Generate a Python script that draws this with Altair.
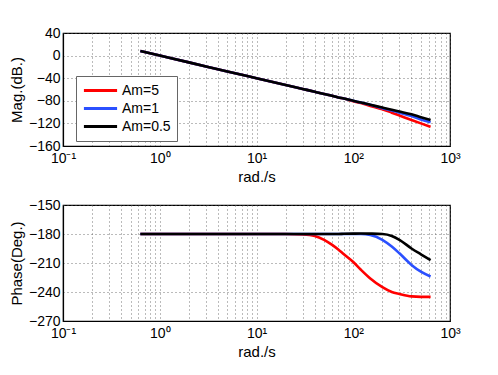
import altair as alt
import pandas as pd

freq = [0.63, 1, 2, 5, 10, 20, 30, 40, 50, 60, 70, 80, 100, 120, 150, 200, 250, 300, 400, 500, 630]

mag_am5 = [8, 0, -12, -28, -40, -52, -59, -64, -68, -71, -74, -76, -81, -84, -89, -95, -101, -106, -114, -120, -126]
mag_am1 = [8, 0, -12, -28, -40, -52, -59, -64, -68, -71, -74, -76, -80, -83, -87, -93, -97, -101, -107, -113, -118]
mag_am05 = [8, 0, -12, -28, -40, -52, -59, -64, -68, -71, -74, -76, -80, -83, -87, -92, -96, -99, -104, -109, -114]

ph_am5 = [-180, -180, -180, -180, -180, -180, -180.5, -182, -186, -191, -196, -201, -209, -217, -226, -235, -240, -242, -244.5, -245, -245]
ph_am1 = [-180, -180, -180, -180, -180, -180, -180, -180, -180, -180, -180, -180, -180, -180, -181, -186, -193, -200, -212, -219, -224]
ph_am05 = [-180, -180, -180, -180, -180, -180, -180, -180, -180, -180, -180, -179.8, -179.6, -179.5, -179.6, -180, -182, -186, -195, -201, -207]

series = ["Am=5", "Am=1", "Am=0.5"]
colors = ["#ff0000", "#2b50ff", "#000000"]

x_ticks = [0.1, 0.2, 0.3, 0.4, 0.5, 0.6, 0.7, 0.8, 0.9,
           1, 2, 3, 4, 5, 6, 7, 8, 9,
           10, 20, 30, 40, 50, 60, 70, 80, 90,
           100, 200, 300, 400, 500, 600, 700, 800, 900, 1000]
mag_ticks = [-160, -120, -80, -40, 0, 40]
ph_ticks = [-270, -240, -210, -180, -150]

rows = []
for name, m, p in zip(series, [mag_am5, mag_am1, mag_am05], [ph_am5, ph_am1, ph_am05]):
    for f, mv, pv in zip(freq, m, p):
        rows.append({"w": f, "mag": mv, "phase": pv, "series": name})
df = pd.DataFrame(rows)

FONT = "Liberation Sans"
label_expr = ("datum.value == 0.1 ? '10⁻¹' : datum.value == 1 ? '10⁰' : "
              "datum.value == 10 ? '10¹' : datum.value == 100 ? '10²' : "
              "datum.value == 1000 ? '10³' : ''")

grid_style = dict(grid=True, gridDash=[1, 3], gridColor="#555", gridOpacity=0.8,
                  ticks=False, domainColor="black", labelFont=FONT, labelFontSize=14,
                  labelColor="black", titleFont=FONT, titleFontSize=15,
                  titleFontWeight="normal", titleColor="black")

x_enc = alt.X("w:Q", scale=alt.Scale(type="log", domain=[0.1, 1000], nice=False),
              axis=alt.Axis(values=x_ticks, labelExpr=label_expr, title="rad./s",
                            labelPadding=5, titlePadding=4, labelFlush=False,
                            labelOverlap=False, **grid_style))

color_scale = alt.Scale(domain=series, range=colors)

top = alt.Chart(df).mark_line(strokeWidth=2.6, interpolate="monotone").encode(
    x=x_enc,
    y=alt.Y("mag:Q", scale=alt.Scale(domain=[-160, 40], nice=False),
            axis=alt.Axis(values=mag_ticks, title="Mag.(dB.)", labelPadding=3,
                          titlePadding=4, **grid_style)),
    color=alt.Color("series:N", scale=color_scale, sort=series,
                    legend=alt.Legend(title=None, orient="none", legendX=13, legendY=43,
                                      symbolType="stroke", symbolSize=1100,
                                      clipHeight=17,
                                      symbolStrokeWidth=3, labelFont=FONT,
                                      labelFontSize=14, labelColor="black",
                                      fillColor="white", strokeColor="#666",
                                      padding=6, rowPadding=1, labelOffset=3,
                                      symbolOffset=0, cornerRadius=0)),
    order=alt.Order("series:N"),
).properties(width=387, height=113)

bottom = alt.Chart(df).mark_line(strokeWidth=2.6, interpolate="monotone").encode(
    x=x_enc,
    y=alt.Y("phase:Q", scale=alt.Scale(domain=[-270, -150], nice=False),
            axis=alt.Axis(values=ph_ticks, title="Phase(Deg.)", labelPadding=3,
                          titlePadding=4, **grid_style)),
    color=alt.Color("series:N", scale=color_scale, sort=series, legend=None),
).properties(width=387, height=116)

chart = alt.vconcat(top, bottom, spacing=12).resolve_scale(color="independent").properties(
    padding={"left": 0, "top": 17, "right": 5, "bottom": 5}
).configure_view(stroke="black", strokeWidth=1.2).configure_axis(domainWidth=1.2)

chart.save("out.html", embed_options={"renderer": "svg", "actions": False})
